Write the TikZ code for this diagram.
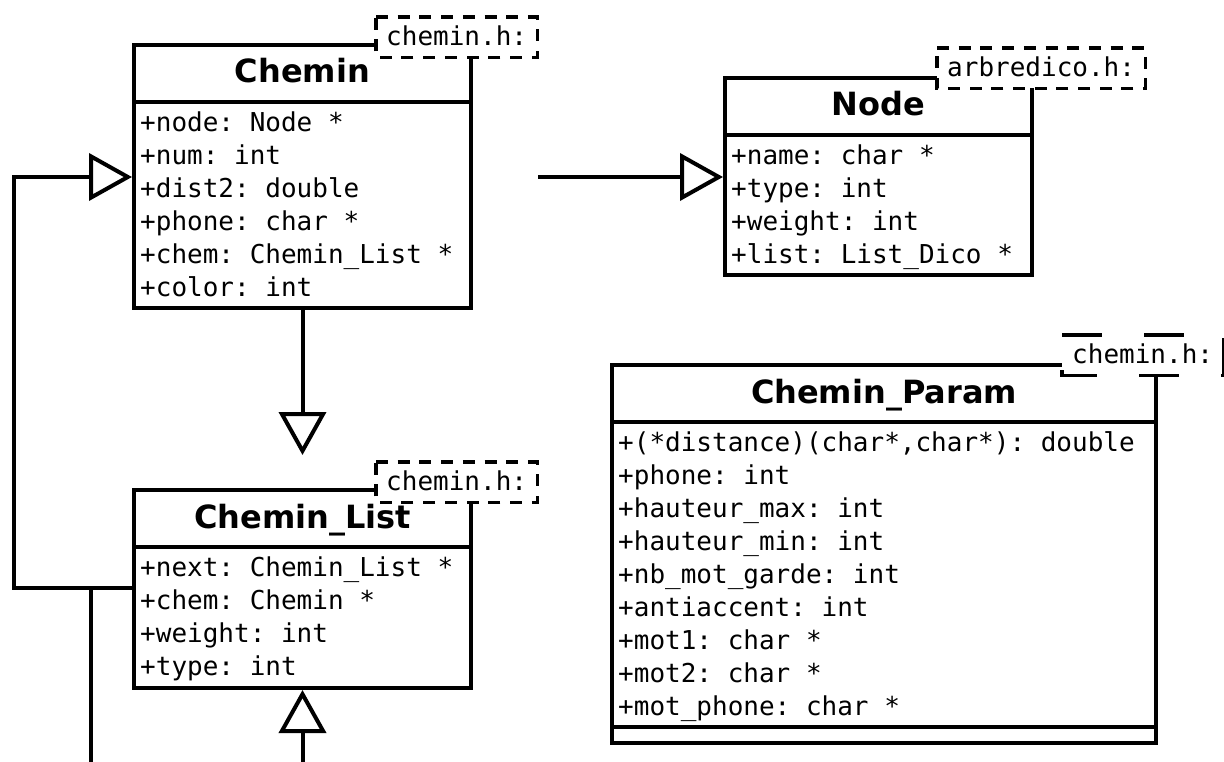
\documentclass[tikz,border=0pt]{standalone}
\usepackage{fontspec}
\setsansfont{DejaVu Sans}
\setmonofont{DejaVu Sans Mono}
\usetikzlibrary{arrows.meta,positioning}

\tikzset{
  classname/.style={draw, line width=4pt, outer sep=0pt, inner sep=0pt,
    minimum height=57pt, text height=24pt, text depth=5pt,
    font=\sffamily\bfseries\fontsize{32}{38}\selectfont},
  compartment/.style={draw, line width=4pt, outer sep=0pt, inner sep=0pt},
  members/.style={anchor=north west, inner sep=6pt, align=left,
    font=\ttfamily\fontsize{26}{33}\selectfont},
  headerfile/.style={anchor=north west, fill=white, inner xsep=10pt, inner ysep=0pt,
    text height=28pt, text depth=12pt, font=\ttfamily\fontsize{26}{33}\selectfont},
  tabline/.style={line width=3.5pt, dash pattern=on 12pt off 9.7pt},
  relation/.style={line width=4pt},
  inherits/.style={relation, -{Triangle[open, length=43pt, width=47pt]}, shorten >=2pt},
}

\begin{document}
\begin{tikzpicture}[x=1pt, y=-1pt]
  \useasboundingbox (0,0) rectangle (1224,762);

  % Chemin
  \node[classname, minimum width=337pt] (chemin) at (302.5,73.5) {Chemin};
  \node[compartment, minimum width=337pt, minimum height=206pt, below=0pt of chemin] (chemin-attrs) {};
  \node[members] (chemin-text) at (chemin-attrs.north west)
    {\strut+node: Node *\\+num: int\\+dist2: double\\+phone: char *\\+chem: Chemin\_List *\\+color: int};
  \node[headerfile] (chemin-file) at (376,17) {chemin.h:};
  \draw[tabline] (chemin-file.north west) -- (chemin-file.north east)
    -- (chemin-file.south east) -- (chemin-file.south west) -- cycle;

  % Chemin_List
  \node[classname, minimum width=337pt] (list) at (302.5,518.5) {Chemin\_List};
  \node[compartment, minimum width=337pt, minimum height=141pt, below=0pt of list] (list-attrs) {};
  \node[members] (list-text) at (list-attrs.north west)
    {\strut+next: Chemin\_List *\\+chem: Chemin *\\+weight: int\\+type: int};
  \node[headerfile] (list-file) at (376,462) {chemin.h:};
  \draw[tabline] (list-file.north west) -- (list-file.north east)
    -- (list-file.south east) -- (list-file.south west) -- cycle;

  % Node (arbredico.h)
  \node[classname, minimum width=307pt] (node) at (878.5,106.5) {Node};
  \node[compartment, minimum width=307pt, minimum height=140pt, below=0pt of node] (node-attrs) {};
  \node[members] (node-text) at (node-attrs.north west)
    {\strut+name: char *\\+type: int\\+weight: int\\+list: List\_Dico *};
  \node[headerfile] (node-file) at (937,48) {arbredico.h:};
  \draw[tabline] (node-file.north west) -- (node-file.north east)
    -- (node-file.south east) -- (node-file.south west) -- cycle;

  % Chemin_Param
  \node[classname, minimum width=544pt] (param) at (884,393.5) {Chemin\_Param};
  \node[compartment, minimum width=544pt, minimum height=305pt, below=0pt of param] (param-attrs) {};
  \node[compartment, minimum width=544pt, minimum height=16pt, below=0pt of param-attrs] (param-ops) {};
  \node[members] (param-text) at (param-attrs.north west)
    {\strut+(*distance)(char*,char*): double\\+phone: int\\+hauteur\_max: int\\+hauteur\_min: int\\
     +nb\_mot\_garde: int\\+antiaccent: int\\+mot1: char *\\+mot2: char *\\+mot\_phone: char *};
  \node[headerfile] (param-file) at (1062,335) {chemin.h:};
  \draw[tabline, dash pattern=on 40pt off 42pt] (param-file.north west) -- (param-file.north east)
    -- (param-file.south east) -- (param-file.south west) -- cycle;

  % links
  \coordinate (loop-top) at (14,177);
  \coordinate (loop-bottom) at (14,588);
  \coordinate (down-tip) at (302.5,457);
  \coordinate (node-src) at (538,177);
  \coordinate (up-src) at (302.5,770);
  \coordinate (stub-end) at (91,770);

  \draw[inherits] (list-attrs.west |- loop-bottom) -- (loop-bottom) -- (loop-top)
    -- (chemin-attrs.west |- loop-top);
  \draw[relation] (loop-bottom -| stub-end) -- (stub-end);
  \draw[inherits] (chemin-attrs.south) -- (down-tip);
  \draw[inherits] (node-src) -- (node-attrs.west |- node-src);
  \draw[inherits] (up-src) -- (list-attrs.south);
\end{tikzpicture}
\end{document}
